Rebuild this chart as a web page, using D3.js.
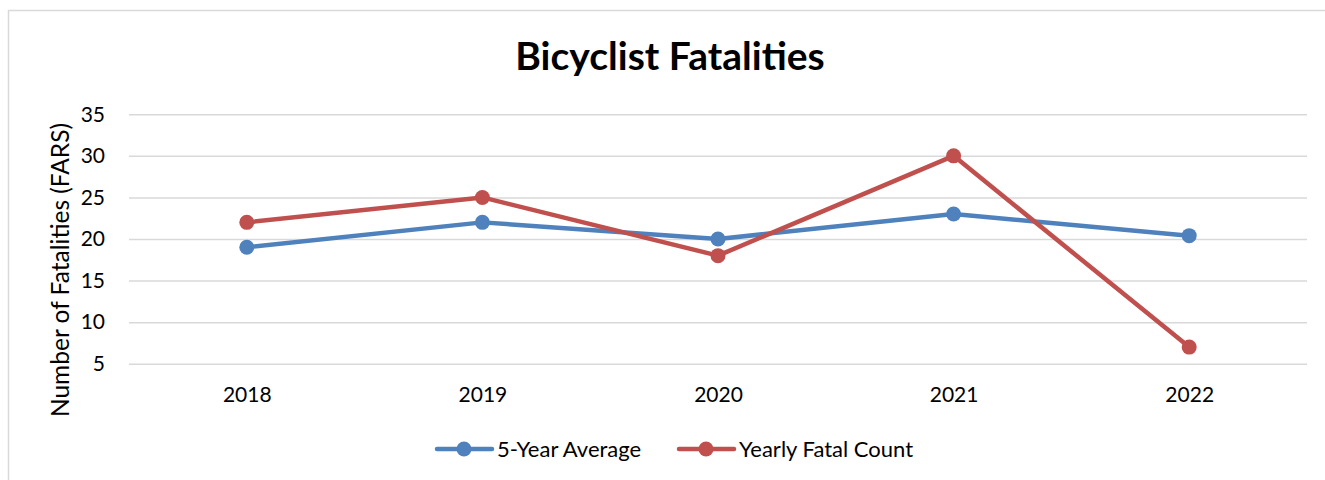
<!DOCTYPE html>
<html>
<head>
<meta charset="utf-8">
<script src="https://cdn.jsdelivr.net/npm/d3@7"></script>
<style>
  body { margin: 0; background: white; }
  text { font-family: Lato, "Open Sans", sans-serif; fill: #000; }
</style>
</head>
<body>
<div id="chart"></div>
<script>
var width = 1325
var height = 480

// Data
var years = ["2018", "2019", "2020", "2021", "2022"];
var fiveYearAvg = [19, 22, 20, 23, 20.4];
var yearlyCount = [22, 25, 18, 30, 7];
var yTicks = [5, 10, 15, 20, 25, 30, 35];
var seriesNames = ["5-Year Average", "Yearly Fatal Count"];
var seriesColors = ["#4F81BD", "#C0504D"];

var x_scale = d3.scalePoint()
    .domain(years)
    .range([129, 1307])
    .padding(0.5);

var y_scale = d3.scaleLinear()
    .domain([5, 35])
    .range([363.7, 114.3]);

var svg = d3.select("#chart")
    .append("svg")
    .attr("width", width)
    .attr("height", height)
    .style("background-color", "white")

// Chart border (top and left visible)
svg.append("path")
    .attr("d", "M8.5,480 L8.5,10.5 L1325,10.5")
    .attr("fill", "none")
    .attr("stroke", "#d9d9d9")
    .attr("stroke-width", 1.5)

// Title
svg.append("text")
    .attr("x", 670)
    .attr("y", 70)
    .attr("text-anchor", "middle")
    .style("font-size", "39px")
    .style("font-weight", "bold")
    .text("Bicyclist Fatalities")

// Gridlines + y ticks
var yAxis = d3.axisLeft(y_scale)
    .tickValues(yTicks)
    .tickSize(-(1307 - 129))
    .tickPadding(24)
    .tickFormat(d3.format("d"));

var gy = svg.append("g")
    .attr("transform", "translate(129,0)")
    .call(yAxis);
gy.select(".domain").remove();
gy.selectAll(".tick line")
    .attr("stroke", "#d9d9d9")
    .attr("stroke-width", 1.5);
gy.selectAll(".tick text")
    .style("font-size", "21px")
    .attr("fill", "#000");

var xAxis = d3.axisBottom(x_scale)
    .tickSize(0)
    .tickPadding(0);

var gx = svg.append("g")
    .attr("transform", "translate(0,385)")
    .call(xAxis);
gx.select(".domain").remove();
gx.selectAll(".tick text")
    .style("font-size", "21px")
    .attr("fill", "#000")
    .attr("dy", "0.8em");

// Axis title
svg.append("text")
    .attr("transform", "translate(69,270) rotate(-90)")
    .attr("text-anchor", "middle")
    .style("font-size", "24.5px")
    .text("Number of Fatalities (FARS)")

// Lines
var series = [fiveYearAvg, yearlyCount];
var line = d3.line()
    .x(function(d, i) { return x_scale(years[i]); })
    .y(function(d) { return y_scale(d); });

series.forEach(function(values, s) {
    svg.append("path")
        .datum(values)
        .attr("d", line)
        .attr("fill", "none")
        .attr("stroke", seriesColors[s])
        .attr("stroke-width", 4.5)
        .attr("stroke-linejoin", "round");
    svg.append("g")
        .selectAll("circle")
        .data(values)
        .enter()
        .append("circle")
        .attr("cx", function(d, i) { return x_scale(years[i]); })
        .attr("cy", function(d) { return y_scale(d); })
        .attr("r", 7.5)
        .attr("fill", seriesColors[s]);
});

// Legend
var legendX = [437, 679];
var legend = svg.append("g")
    .selectAll("g")
    .data(seriesNames)
    .enter()
    .append("g")
    .attr("transform", function(d, i) { return "translate(" + legendX[i] + ",449)"; });

legend.append("line")
    .attr("x1", 0)
    .attr("x2", 55)
    .attr("stroke", function(d, i) { return seriesColors[i]; })
    .attr("stroke-width", 4.5)
    .attr("stroke-linecap", "round");
legend.append("circle")
    .attr("cx", 27)
    .attr("r", 7.5)
    .attr("fill", function(d, i) { return seriesColors[i]; });
legend.append("text")
    .attr("x", 60)
    .attr("dy", "0.35em")
    .style("font-size", "22px")
    .text(function(d) { return d; });
</script>
</body>
</html>
